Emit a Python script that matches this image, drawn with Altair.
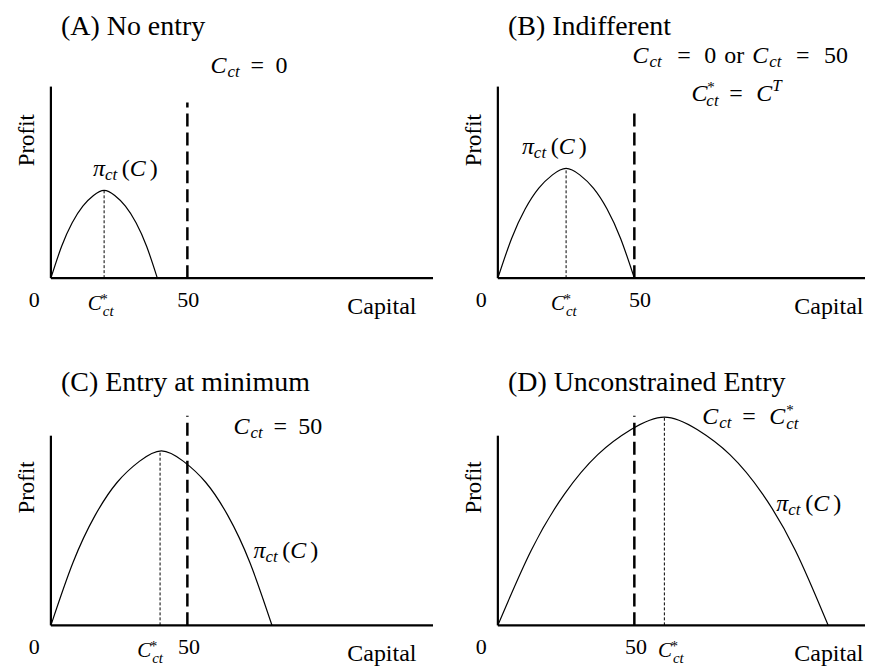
import altair as alt
import pandas as pd

# ---------------- scale geometry (data units) ----------------
KX = 383 / 140   # px per capital unit
KY = 192 / 100   # px per profit unit
FONT = "Liberation Serif"

# ---------------- data ----------------
titles = ["(A) No entry", "(B) Indifferent", "(C) Entry at minimum", "(D) Unconstrained Entry"]
title_x = [3.7, 3.7, 3.7, 3.7]
title_y = [127.1, 127.1, 122.4, 122.4]

x_max = [140, 134.5, 140, 134.5]          # right end of the capital axis
y_axis_top = [100, 100, 99, 99]          # top of the profit axis
min_scale = 50                           # minimum entry capital (dashed line)
dashed_top = [91.7, 89.0, 109.4, 109.4]
c_star = [19.5, 25.0, 40.0, 61.0]        # optimal capital C*_ct
c_star_peak = [45.8, 57.3, 91.1, 108.7]  # profit at C*_ct
c_star_label_x = [19.2, 25.1, 37.3, 64.3]
tick50_x = [50.3, 52.1, 50.6, 50.6]

curve_a_x = [0, 3.9, 7.8, 11.7, 15.6, 19.5, 23.4, 27.3, 31.2, 35.1, 39]
curve_a_y = [0, 16.5, 28.9, 37.6, 43.1, 45.8, 43.1, 37.6, 28.9, 16.5, 0]
curve_b_x = [0, 5, 10, 15, 20, 25, 30, 35, 40, 45, 50]
curve_b_y = [0, 20.6, 36.1, 47.0, 53.9, 57.3, 53.9, 47.0, 36.1, 20.6, 0]
curve_c_x = [0, 8.1, 16.2, 24.3, 32.4, 40.5, 48.6, 56.7, 64.8, 72.9, 81]
curve_c_y = [0, 32.8, 57.4, 74.7, 85.6, 91.1, 85.6, 74.7, 57.4, 32.8, 0]
curve_d_x = [0, 12.2, 24.4, 36.6, 48.8, 61, 73, 85, 97, 109, 121]
curve_d_y = [0, 39.1, 68.5, 89.1, 102.2, 108.7, 102.2, 89.1, 68.5, 39.1, 0]
curves = [(curve_a_x, curve_a_y), (curve_b_x, curve_b_y),
          (curve_c_x, curve_c_y), (curve_d_x, curve_d_y)]

# profit-function label anchor
pi_x = [15.4, 8.8, 74.2, 102.0]
pi_y = [53.1, 64.6, 34.9, 59.9]

# condition annotations: (name, x, y)
annotations = [
    [("c_eq_0", 58.5, 107.1)],
    [("c_eq_0_or_50", 49.3, 112.5), ("cstar_eq_ct", 70.9, 92.3)],
    [("c_eq_50", 66.9, 99.8)],
    [("c_eq_cstar", 74.9, 105.0)],
]

# ---------------- typeset pieces (text, dx px, dy px, size, italic) ----------------
M, S = 24, 17
MATH = {
    "c_eq_0": [("C", 0, 0, M, True), ("ct", 17, 4, S, True), ("=", 40, 0, M, False), ("0", 65, 0, M, False)],
    "c_eq_0_or_50": [("C", 0, 0, M, True), ("ct", 17, 4, S, True), ("=", 45, 0, M, False),
                     ("0", 72, 0, M, False), ("or", 92, 0, M, False), ("C", 120, 0, M, True),
                     ("ct", 137, 4, S, True), ("=", 164, 0, M, False), ("50", 192, 0, M, False)],
    "cstar_eq_ct": [("C", 0, 0, M, True), ("*", 16, -9, 15, False), ("ct", 15, 5, S, True),
                    ("=", 38, 0, M, False), ("C", 65, 0, M, True), ("T", 81, -10, S, True)],
    "c_eq_50": [("C", 0, 0, M, True), ("ct", 17, 4, S, True), ("=", 40, 0, M, False), ("50", 65, 0, M, False)],
    "c_eq_cstar": [("C", 0, 0, M, True), ("ct", 17, 4, S, True), ("=", 40, 0, M, False),
                   ("C", 67, 0, M, True), ("*", 84, -9, 15, False), ("ct", 84, 5, S, True)],
    "pi": [("π", 0, 0, M, True), ("ct", 12, 4, S, True), ("(", 29, 0, M, False),
           ("C", 37, 0, M, True), (")", 57, 0, M, False)],
    "cstar_tick": [("C", -15.5, 3, 21, True), ("*", -2.5, -3, 14, False), ("ct", -0.5, 9, 15, True)],
}


def typeset(name, ax, ay):
    rows = []
    for text, dx, dy, size, ital in MATH[name]:
        rows.append({"x": ax + dx / KX, "y": ay - dy / KY, "text": text,
                     "size": size, "italic": ital})
    return rows


def panel(i):
    xs = alt.Scale(domain=[0, x_max[i]], nice=False, zero=False)
    ys = alt.Scale(domain=[0, 100], nice=False, zero=False)
    X = alt.X("x:Q", scale=xs, axis=None)
    X2 = alt.X2("x2:Q")
    Y = alt.Y("y:Q", scale=ys, axis=None)
    Y2 = alt.Y2("y2:Q")

    axes_df = pd.DataFrame({"x": [0, 0], "x2": [0, x_max[i]], "y": [0, 0], "y2": [y_axis_top[i], 0]})
    dash_df = pd.DataFrame({"x": [min_scale], "x2": [min_scale], "y": [0], "y2": [dashed_top[i]]})
    dot_df = pd.DataFrame({"x": [c_star[i]], "x2": [c_star[i]], "y": [0], "y2": [c_star_peak[i]]})
    cx, cy = curves[i]
    curve_df = pd.DataFrame({"x": cx, "y": cy})

    rows = []
    for name, ax, ay in annotations[i]:
        rows += typeset(name, ax, ay)
    rows += typeset("pi", pi_x[i], pi_y[i])
    rows += typeset("cstar_tick", c_star_label_x[i], -15)
    rows.append({"x": title_x[i], "y": title_y[i], "text": titles[i], "size": 28, "italic": False})
    rows.append({"x": 108.6, "y": -18.75, "text": "Capital", "size": 24, "italic": False})
    txt = pd.DataFrame(rows)
    up_df = txt[~txt["italic"]]
    it_df = txt[txt["italic"]]
    tick_df = pd.DataFrame({"x": [-6.1, tick50_x[i]], "y": [-15, -15], "text": ["0", "50"]})
    prof_df = pd.DataFrame({"x": [-6.3], "y": [72], "text": ["Profit"]})

    layers = [
        alt.Chart(axes_df).mark_rule(color="black", strokeWidth=2.2).encode(x=X, x2=X2, y=Y, y2=Y2),
        alt.Chart(dash_df).mark_rule(color="black", strokeWidth=2.5, strokeDash=[13, 6]).encode(x=X, x2=X2, y=Y, y2=Y2),
        alt.Chart(dot_df).mark_rule(color="black", strokeWidth=1, strokeDash=[3, 2]).encode(x=X, x2=X2, y=Y, y2=Y2),
        alt.Chart(curve_df).mark_line(color="black", strokeWidth=1.2, interpolate="natural").encode(x=X, y=Y),
        alt.Chart(up_df).mark_text(align="left", baseline="alphabetic", font=FONT, color="black").encode(
            x=X, y=Y, text="text:N", size=alt.Size("size:Q", scale=None)),
        alt.Chart(it_df).mark_text(align="left", baseline="alphabetic", font=FONT, fontStyle="italic",
                                   color="black").encode(
            x=X, y=Y, text="text:N", size=alt.Size("size:Q", scale=None)),
        alt.Chart(tick_df).mark_text(align="center", baseline="alphabetic", font=FONT, fontSize=22,
                                     color="black").encode(x=X, y=Y, text="text:N"),
        alt.Chart(prof_df).mark_text(align="center", baseline="alphabetic", font=FONT, fontSize=23,
                                     angle=270, color="black").encode(x=X, y=Y, text="text:N"),
    ]
    return alt.layer(*layers).properties(width=round(x_max[i] * KX), height=192)


chart = alt.concat(
    panel(0), panel(1), panel(2), panel(3),
    columns=2, spacing={"row": 156, "column": 65}, bounds="flush",
).configure_view(stroke=None).properties(
    padding={"left": 7, "top": 3, "right": 0, "bottom": 4}
)

chart.save("out.html", embed_options={"renderer": "svg", "actions": False})
